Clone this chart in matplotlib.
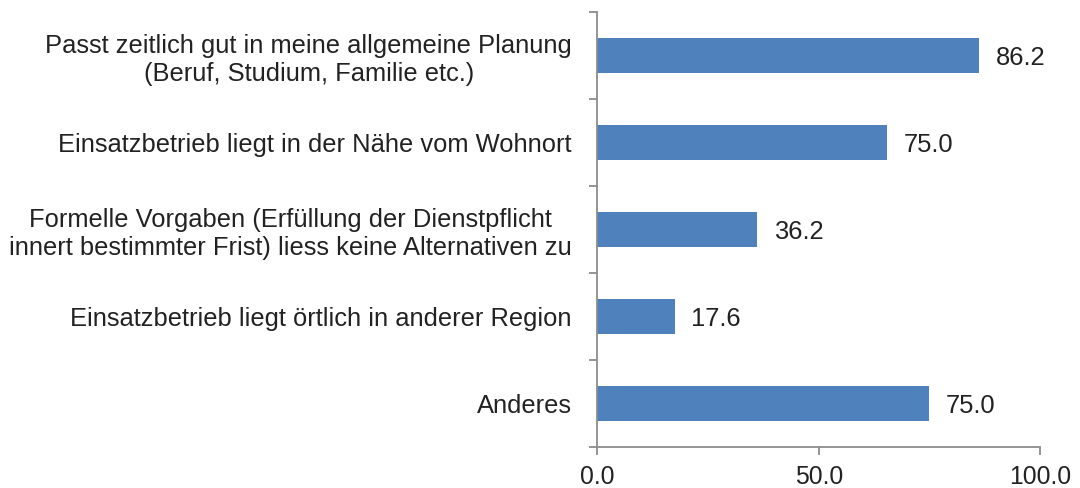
import matplotlib
matplotlib.use("Agg")
import matplotlib.pyplot as plt
import matplotlib.transforms as mtransforms
import numpy as np

categories = [
    "Passt zeitlich gut in meine allgemeine Planung\n(Beruf, Studium, Familie etc.)",
    "Einsatzbetrieb liegt in der Nähe vom Wohnort",
    "Formelle Vorgaben (Erfüllung der Dienstpflicht\ninnert bestimmter Frist) liess keine Alternativen zu",
    "Einsatzbetrieb liegt örtlich in anderer Region",
    "Anderes",
]
values = [86.2, 65.5, 36.2, 17.6, 75.0]
value_labels = ["86.2", "75.0", "36.2", "17.6", "75.0"]
x_ticks = [0, 50, 100]
x_ticklabels = ["0.0", "50.0", "100.0"]

plt.rcParams['font.family'] = ['Liberation Sans', 'DejaVu Sans']
text_color = "#222222"
axis_color = "#8c8c8c"
bar_color = "#4F81BD"
fs = 18.4

fig = plt.figure(figsize=(10.8, 4.88), dpi=100)
ax = fig.add_axes([597/1080, 1-446.7/488, (1040.3-597)/1080, (446.7-12)/488])

n = len(categories)
ypos = np.arange(n)[::-1]
ax.barh(ypos, values, height=0.4, color=bar_color, zorder=2)
for y, v, lab in zip(ypos, values, value_labels):
    ax.text(v + 3.7, y - 0.03, lab, va="center", ha="left", fontsize=fs, color=text_color)

ax.set_xlim(0, 100)
ax.set_ylim(-0.5, n - 0.5)
ax.set_xticks(x_ticks)
ax.set_xticklabels(x_ticklabels, fontsize=17.8, color=text_color)
ax.set_yticks(ypos)
ax.set_yticklabels(categories, fontsize=fs, color=text_color, ha="center",
                   multialignment="center", linespacing=1.2)
ax.tick_params(axis="y", which="major", length=0, pad=0)
ax.set_yticks(np.arange(-0.5, n, 1.0), minor=True)
ax.tick_params(axis="y", which="minor", length=6, width=1.3, color=axis_color, direction="out")
ax.tick_params(axis="x", which="major", length=5.5, width=1.3, color=axis_color, direction="out", pad=8)

fig.canvas.draw()
renderer = fig.canvas.get_renderer()
for lbl in ax.get_yticklabels():
    w = lbl.get_window_extent(renderer).width
    offset = mtransforms.ScaledTranslation(-(25 + w/2)/100, 0, fig.dpi_scale_trans)
    lbl.set_transform(lbl.get_transform() + offset)

for s in ["top", "right"]:
    ax.spines[s].set_visible(False)
for s in ["left", "bottom"]:
    ax.spines[s].set_color(axis_color)
    ax.spines[s].set_linewidth(1.3)

fig.savefig("out.png", dpi=100, facecolor="white")
